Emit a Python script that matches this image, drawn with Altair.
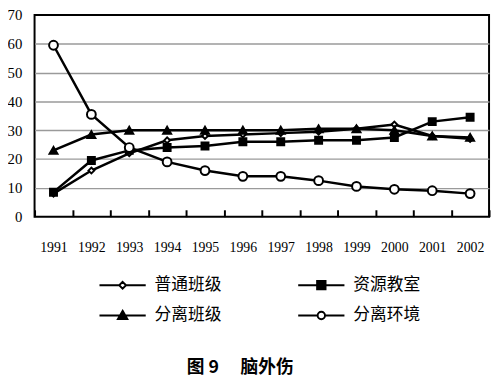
import altair as alt
import pandas as pd

years = [str(y) for y in range(1991, 2003)]
series = ["普通班级", "资源教室", "分离班级", "分离环境"]
putong = [8, 16, 22, 26.5, 28, 28.5, 29, 29.5, 30.5, 32, 28, 27]
ziyuan = [8.5, 19.5, 23, 24, 24.5, 26, 26, 26.5, 26.5, 27.5, 33, 34.5]
fenli_bj = [23, 28.5, 30, 30, 30, 30, 30, 30.5, 30.5, 30, 28, 27.5]
fenli_hj = [59.5, 35.5, 24, 19, 16, 14, 14, 12.5, 10.5, 9.5, 9, 8]
y_ticks = [0, 10, 20, 30, 40, 50, 60, 70]

rows = []
for name, vals in zip(series, [putong, ziyuan, fenli_bj, fenli_hj]):
    for yr, v in zip(years, vals):
        rows.append({"year": yr, "series": name, "value": v})
df = pd.DataFrame(rows)

plot_shapes = ["diamond", "square", "triangle-up", "circle"]
plot_fills = ["white", "black", "black", "white"]
plot_sizes = [35, 80, 80, 75]
legend_shapes = [
    "M-4.7,0H-0.65M0.65,0H4.7M0,-0.7L0.7,0L0,0.7L-0.7,0Z",
    "M-4.7,0H4.7M-0.85,-0.85H0.85V0.85H-0.85Z",
    "M-4.7,0H4.7M0,-0.95L0.95,0.7H-0.95Z",
    "M-4.7,0H-0.75M0.75,0H4.7M0.75,0A0.75,0.75,0,1,1,-0.75,0A0.75,0.75,0,1,1,0.75,0Z",
]

x_enc = alt.X(
    "year:N",
    sort=years,
    scale=alt.Scale(type="band", paddingInner=0, paddingOuter=0),
    axis=alt.Axis(
        title=None, labelAngle=0, tickBand="extent", offset=-7, tickSize=7,
        tickColor="black", tickWidth=2, domain=False, labelPadding=24,
        labelFont="Liberation Serif", labelFontSize=14, labelColor="black",
        grid=False,
    ),
)
y_enc = alt.Y(
    "value:Q",
    scale=alt.Scale(domain=[0, 70], nice=False),
    axis=alt.Axis(
        title=None, values=y_ticks, domain=False, ticks=False, labelPadding=13,
        labelFont="Liberation Serif", labelFontSize=15, labelColor="black",
        grid=True, gridWidth=1.5,
        gridColor={"condition": {"test": "datum.value == 0 || datum.value == 70", "value": "transparent"}, "value": "#9a9a9a"},
    ),
)

lines = alt.Chart(df).mark_line(color="black", strokeWidth=2.5).encode(
    x=x_enc, y=y_enc, detail="series:N"
)

points = alt.Chart(df).mark_point(stroke="black", strokeWidth=2, opacity=1, filled=False).encode(
    x=x_enc, y=y_enc,
    shape=alt.Shape("series:N", scale=alt.Scale(domain=series, range=plot_shapes), legend=None),
    fill=alt.Fill("series:N", scale=alt.Scale(domain=series, range=plot_fills), legend=None),
    size=alt.Size("series:N", scale=alt.Scale(domain=series, range=plot_sizes), legend=None),
)

leg = alt.Legend(
    title=None, orient="none", legendX=81, legendY=266, direction="horizontal",
    columns=2, columnPadding=74, rowPadding=13, symbolSize=100, labelOffset=24,
    labelFont="Noto Sans CJK SC", labelFontSize=17, labelColor="black",
    symbolStrokeWidth=2, symbolStrokeColor="black", labelLimit=300, padding=0,
)

legend_layer = alt.Chart(df).transform_filter("false").mark_point(
    stroke="black", strokeWidth=2, opacity=1, filled=False
).encode(
    x=x_enc, y=y_enc,
    shape=alt.Shape("series:N", scale=alt.Scale(domain=series, range=legend_shapes), legend=leg),
    fill=alt.Fill("series:N", scale=alt.Scale(domain=series, range=plot_fills), legend=leg),
    stroke=alt.Stroke("series:N", scale=alt.Scale(domain=series, range=["black"] * 4), legend=leg),
)

chart = alt.layer(lines, points, legend_layer).resolve_scale(
    shape="independent", fill="independent", size="independent", stroke="independent"
).resolve_legend(
    shape="independent", fill="independent", stroke="independent"
).properties(
    width=462, height=205,
    autosize=alt.AutoSizeParams(type="none"),
    padding={"left": 27, "top": 4, "right": 3, "bottom": 168},
    background="white",
    title=alt.TitleParams(
        "图 9\u3000\u00a0脑外伤", orient="bottom", font="Noto Sans CJK SC", fontSize=18,
        fontWeight="bold", color="black", anchor="middle", offset=36, dx=-22,
    ),
).configure_view(stroke="black", strokeWidth=2)

chart.save("out.html", embed_options={"renderer": "svg", "actions": False})
